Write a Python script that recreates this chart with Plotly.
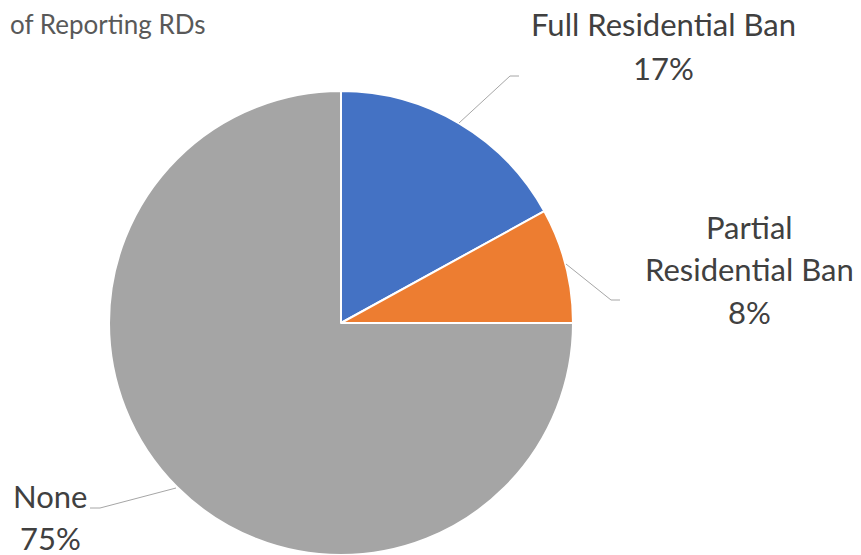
import plotly.graph_objects as go

categories = ["Full Residential Ban", "Partial Residential Ban", "None"]
values = [17, 8, 75]
colors = ["#4472C4", "#ED7D31", "#A5A5A5"]

W, H = 861, 555
OFF = 8  # page body margin offset

def px(x):
    return (x - OFF) / W

def py(y):
    return 1 - (y - OFF) / H

fig = go.Figure(go.Pie(
    labels=categories,
    values=values,
    sort=False,
    direction="clockwise",
    rotation=0,
    marker=dict(colors=colors, line=dict(color="white", width=2)),
    textinfo="none",
    hoverinfo="label+percent",
    domain=dict(x=[px(109), px(573)], y=[py(555), py(91)]),
    showlegend=False,
))

font_lbl = dict(family="Lato, Open Sans, sans-serif", size=31, color="#404040")

label_lines = [
    ("Full Residential Ban", 663, 24),
    (f"{values[0]}%", 663, 68),
    ("Partial", 749, 227),
    ("Residential Ban", 749, 269),
    (f"{values[1]}%", 749, 312),
    ("None", 50, 496),
    (f"{values[2]}%", 50, 538),
]
annotations = []
for t, x, y in label_lines:
    annotations.append(dict(text=t, x=px(x), y=py(y), xref="paper", yref="paper",
                            xanchor="center", yanchor="middle", showarrow=False, font=font_lbl))

annotations.append(dict(text="of Reporting RDs", x=0, y=py(24), xref="paper", yref="paper",
                        xanchor="left", yanchor="middle", showarrow=False,
                        font=dict(family="Lato, Open Sans, sans-serif", size=26, color="#595959")))

leaders = [
    [(459, 123), (510, 76), (519, 76)],
    [(566, 264), (611, 300), (620, 300)],
    [(176, 488), (100, 508), (90, 508)],
]
shapes = []
for pts in leaders:
    path = "M " + " L ".join(f"{px(x)},{py(y)}" for x, y in pts)
    shapes.append(dict(type="path", path=path, xref="paper", yref="paper",
                       line=dict(color="#A6A6A6", width=1)))

fig.update_layout(
    width=W, height=H,
    margin=dict(l=0, r=0, t=0, b=0),
    paper_bgcolor="white",
    plot_bgcolor="white",
    annotations=annotations,
    shapes=shapes,
)

fig.write_html("out.html")
